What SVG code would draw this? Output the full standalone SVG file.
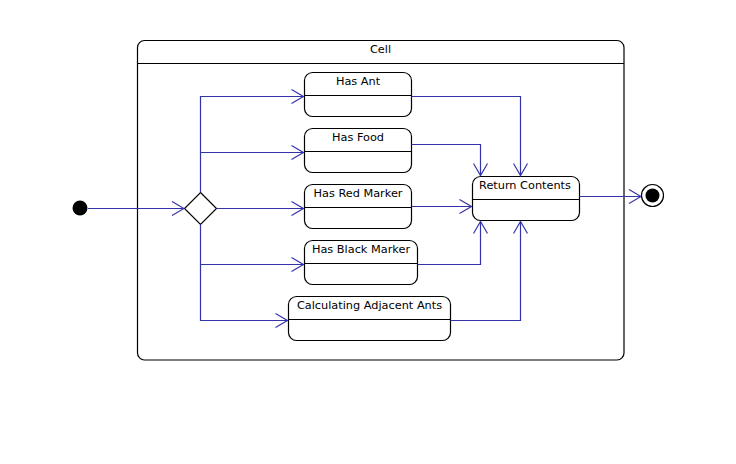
<svg xmlns="http://www.w3.org/2000/svg" width="736" height="464" viewBox="0 0 736 464">
<defs>
<style>
.st{fill:#fff;stroke:#000;stroke-width:1.2}
.dv{stroke:#000;stroke-width:1.2}
.tx{font-family:"DejaVu Sans",sans-serif;font-size:11.3px;fill:#000;text-anchor:middle}
.cn{fill:none;stroke:#3333aa;stroke-width:1.2;marker-end:url(#arr)}
</style>
<marker id="arr" viewBox="-13 -8 14 16" refX="0" refY="0" markerWidth="14" markerHeight="16" markerUnits="userSpaceOnUse" orient="auto">
<path d="M-12,-7 L0,0 L-12,7" fill="none" stroke="#3333aa" stroke-width="1.2"/>
</marker>
</defs>
<rect width="736" height="464" fill="#fff"/>
<g id="cell">
<rect class="st" x="137.5" y="40.5" width="486.5" height="319.5" rx="7"/>
<line class="dv" x1="137.5" y1="63.5" x2="624" y2="63.5"/>
<text class="tx" x="380.5" y="52.5">Cell</text>
</g>
<g id="initial"><circle cx="80" cy="208" r="7.5" fill="#000"/></g>
<g id="decision"><polygon points="200.5,192.5 216.5,208.5 200.5,224.5 184.5,208.5" fill="#fff" stroke="#000" stroke-width="1.2"/></g>
<g id="hasAnt">
<rect class="st" x="304.5" y="72.5" width="107" height="44" rx="8"/>
<line class="dv" x1="304.5" y1="95.5" x2="411.5" y2="95.5"/>
<text class="tx" x="358" y="85">Has Ant</text>
</g>
<g id="hasFood">
<rect class="st" x="304.5" y="128.5" width="107" height="44" rx="8"/>
<line class="dv" x1="304.5" y1="151.5" x2="411.5" y2="151.5"/>
<text class="tx" x="358" y="141">Has Food</text>
</g>
<g id="hasRedMarker">
<rect class="st" x="304.5" y="184.5" width="107" height="44" rx="8"/>
<line class="dv" x1="304.5" y1="207.5" x2="411.5" y2="207.5"/>
<text class="tx" x="358" y="197">Has Red Marker</text>
</g>
<g id="hasBlackMarker">
<rect class="st" x="304.5" y="240.5" width="113" height="44" rx="8"/>
<line class="dv" x1="304.5" y1="263.5" x2="417.5" y2="263.5"/>
<text class="tx" x="361" y="253">Has Black Marker</text>
</g>
<g id="calcAdjacentAnts">
<rect class="st" x="288.5" y="296.5" width="162" height="44" rx="8"/>
<line class="dv" x1="288.5" y1="319.5" x2="450.5" y2="319.5"/>
<text class="tx" x="369.5" y="309">Calculating Adjacent Ants</text>
</g>
<g id="returnContents">
<rect class="st" x="472.5" y="176.5" width="107" height="44" rx="8"/>
<line class="dv" x1="472.5" y1="199.5" x2="579.5" y2="199.5"/>
<text class="tx" x="525" y="189">Return Contents</text>
</g>
<g id="final">
<circle cx="652.5" cy="195.5" r="11" fill="#fff" stroke="#000" stroke-width="1.2"/>
<circle cx="652.5" cy="195.5" r="7" fill="#000"/>
</g>
<g id="connectors">
<path class="cn" d="M88,208.5 H184"/>
<path class="cn" d="M200.5,192.5 V96.5 H303.5"/>
<path class="cn" d="M200.5,152.5 H303.5"/>
<path class="cn" d="M216.5,208.5 H303.5"/>
<path class="cn" d="M200.5,224.5 V264.5 H303.5"/>
<path class="cn" d="M200.5,264.5 V320.5 H287.5"/>
<path class="cn" d="M411.5,96.5 H520.5 V175.5"/>
<path class="cn" d="M411.5,144.5 H480.5 V175.5"/>
<path class="cn" d="M411.5,206.5 H471.5"/>
<path class="cn" d="M417.5,264.5 H480.5 V221.5"/>
<path class="cn" d="M450.5,320.5 H520.5 V221.5"/>
<path class="cn" d="M579.5,196.5 H641"/>
</g>
</svg>
